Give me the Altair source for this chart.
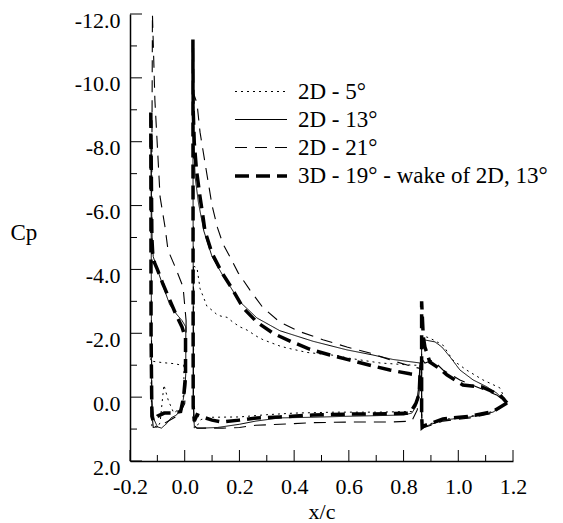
import altair as alt
import pandas as pd

# ---------------- data ----------------
SERIES = ["2D - 5°", "2D - 13°", "2D - 21°", "3D - 19° - wake of 2D, 13°"]

# 2D - 5 deg
S5_SLAT_X = [-0.003, -0.003, -0.01, -0.04, -0.06, -0.076, -0.083, -0.09, -0.1, -0.11, -0.12, -0.122, -0.123, -0.124, -0.115, -0.08, -0.04, -0.01, -0.003]
S5_SLAT_CP = [-1.0, -0.2, 0.3, 0.5, 0.1, -0.38, 0.2, 0.8, 0.95, 0.9, 0.93, 0.0, -0.75, -1.22, -1.12, -1.08, -1.05, -1.0, -1.0]
S5_MAIN_X = [0.86, 0.857, 0.85, 0.83, 0.7, 0.55, 0.4, 0.3, 0.2, 0.1, 0.06, 0.045, 0.035, 0.032, 0.033, 0.045, 0.056, 0.07, 0.081, 0.103, 0.12, 0.14, 0.155, 0.176, 0.202, 0.228, 0.264, 0.286, 0.348, 0.374, 0.447, 0.557, 0.593, 0.714, 0.834, 0.86]
S5_MAIN_CP = [-1.0, -0.3, 0.2, 0.45, 0.47, 0.47, 0.5, 0.55, 0.62, 0.63, 0.7, 0.9, 0.97, 0.5, -4.1, -4.05, -3.4, -3.1, -2.85, -2.7, -2.57, -2.52, -2.5, -2.35, -2.2, -2.1, -1.9, -1.8, -1.6, -1.54, -1.4, -1.3, -1.23, -1.07, -1.0, -1.0]
S5_FLAP_X = [1.178, 1.127, 1.043, 0.944, 0.875, 0.868, 0.866, 0.866, 0.878, 0.896, 0.944, 0.98, 1.03, 1.09, 1.152, 1.178]
S5_FLAP_CP = [0.2, 0.45, 0.6, 0.7, 0.9, 0.97, 0.5, -1.9, -1.9, -1.85, -1.63, -1.16, -0.85, -0.54, -0.29, 0.2]

# 2D - 13 deg
S13_SLAT_X = [0.004, 0.004, 0.0, -0.01, -0.03, -0.05, -0.065, -0.085, -0.1, -0.112, -0.118, -0.121, -0.122, -0.123, -0.121, -0.119, -0.115, -0.1, -0.08, -0.055, -0.03, -0.01, 0.004]
S13_SLAT_CP = [-2.2, -0.75, -0.2, 0.3, 0.56, 0.65, 0.82, 0.97, 0.93, 0.7, 0.3, 0.0, -3.0, -8.0, -6.0, -4.9, -4.4, -4.0, -3.5, -2.9, -2.6, -2.4, -2.2]
S13_MAIN_X = [0.86, 0.855, 0.845, 0.83, 0.8, 0.7, 0.593, 0.469, 0.348, 0.26, 0.2, 0.12, 0.065, 0.045, 0.035, 0.032, 0.03, 0.033, 0.038, 0.05, 0.07, 0.1, 0.14, 0.16, 0.2, 0.264, 0.348, 0.469, 0.593, 0.688, 0.761, 0.86]
S13_MAIN_CP = [-1.07, -0.3, 0.3, 0.5, 0.56, 0.58, 0.6, 0.63, 0.65, 0.75, 0.85, 0.95, 0.97, 0.97, 0.9, 0.3, -9.0, -8.0, -6.9, -6.1, -5.2, -4.4, -3.8, -3.55, -3.0, -2.48, -2.08, -1.75, -1.48, -1.32, -1.18, -1.07]
S13_FLAP_X = [1.178, 1.127, 1.043, 0.944, 0.875, 0.868, 0.866, 0.866, 0.878, 0.915, 0.94, 0.97, 1.006, 1.054, 1.105, 1.14, 1.178]
S13_FLAP_CP = [0.18, 0.47, 0.62, 0.72, 0.93, 0.95, 0.5, -1.8, -1.79, -1.73, -1.57, -1.26, -0.85, -0.54, -0.32, -0.13, 0.18]

# 2D - 21 deg
S21_SLAT_X = [0.005, 0.005, 0.0, -0.02, -0.05, -0.08, -0.1, -0.115, -0.12, -0.122, -0.118, -0.109, -0.09, -0.072, -0.061, -0.036, -0.006, 0.005]
S21_SLAT_CP = [-2.4, -0.5, 0.2, 0.55, 0.7, 0.85, 0.93, 0.95, 0.5, -3.0, -12.0, -9.3, -6.27, -5.33, -4.6, -4.1, -3.45, -2.4]
S21_MAIN_X = [0.86, 0.857, 0.85, 0.83, 0.75, 0.6, 0.469, 0.348, 0.26, 0.2, 0.14, 0.08, 0.045, 0.035, 0.031, 0.033, 0.045, 0.056, 0.075, 0.1, 0.12, 0.14, 0.165, 0.195, 0.238, 0.286, 0.348, 0.421, 0.505, 0.593, 0.677, 0.776, 0.834, 0.86]
S21_MAIN_CP = [-0.9, -0.2, 0.4, 0.75, 0.78, 0.78, 0.8, 0.85, 0.88, 0.95, 0.97, 0.97, 0.97, 0.9, 0.0, -9.5, -9.2, -8.3, -7.3, -6.0, -5.3, -4.8, -4.4, -3.9, -3.36, -2.8, -2.35, -2.05, -1.8, -1.57, -1.38, -1.1, -0.95, -0.9]
S21_FLAP_X = [1.178, 1.127, 1.043, 0.944, 0.875, 0.868, 0.866, 0.866, 0.878, 0.907, 0.944, 1.006, 1.068, 1.14, 1.178]
S21_FLAP_CP = [0.18, 0.5, 0.65, 0.75, 0.95, 0.97, 0.5, -1.2, -1.07, -1.16, -0.85, -0.54, -0.32, -0.07, 0.18]

# 3D - 19 deg
S3D_SLAT_X = [0.003, 0.003, -0.004, -0.015, -0.045, -0.075, -0.1, -0.115, -0.12, -0.123, -0.124, -0.122, -0.12, -0.117, -0.11, -0.1, -0.08, -0.055, -0.03, -0.01, 0.003]
S3D_SLAT_CP = [-1.85, -0.7, 0.0, 0.45, 0.5, 0.5, 0.6, 0.75, 0.6, -2.0, -9.0, -7.0, -5.0, -4.5, -4.2, -4.0, -3.55, -3.05, -2.55, -2.2, -1.85]
S3D_MAIN_X = [0.86, 0.857, 0.845, 0.823, 0.75, 0.6, 0.469, 0.348, 0.264, 0.2, 0.136, 0.1, 0.065, 0.045, 0.035, 0.031, 0.03, 0.031, 0.035, 0.043, 0.056, 0.067, 0.074, 0.1, 0.136, 0.173, 0.213, 0.264, 0.323, 0.392, 0.458, 0.531, 0.604, 0.677, 0.75, 0.823, 0.86]
S3D_MAIN_CP = [-0.68, -0.1, 0.2, 0.5, 0.52, 0.53, 0.56, 0.62, 0.65, 0.72, 0.78, 0.72, 0.62, 0.55, 0.75, 0.3, -11.2, -9.0, -7.96, -7.11, -6.27, -5.64, -5.2, -4.5, -3.9, -3.4, -2.8, -2.35, -2.0, -1.73, -1.5, -1.32, -1.16, -1.0, -0.85, -0.73, -0.68]
S3D_FLAP_X = [1.178, 1.127, 1.043, 0.944, 0.875, 0.868, 0.866, 0.866, 0.872, 0.878, 0.896, 0.93, 0.958, 1.017, 1.086, 1.152, 1.178]
S3D_FLAP_CP = [0.18, 0.45, 0.6, 0.68, 0.9, 0.95, 0.5, -3.0, -1.9, -1.57, -1.1, -0.9, -0.7, -0.38, -0.32, -0.07, 0.18]

X_MAJOR = [-0.2, 0.0, 0.2, 0.4, 0.6, 0.8, 1.0, 1.2]
X_MINOR = [-0.1, 0.1, 0.3, 0.5, 0.7, 0.9, 1.1]
Y_MAJOR = [-12, -10, -8, -6, -4, -2, 0, 2]
Y_MINOR = [-11, -9, -7, -5, -3, -1, 1]

# ---------------- table ----------------
ELEMENTS = {
    SERIES[0]: [(S5_SLAT_X, S5_SLAT_CP), (S5_MAIN_X, S5_MAIN_CP), (S5_FLAP_X, S5_FLAP_CP)],
    SERIES[1]: [(S13_SLAT_X, S13_SLAT_CP), (S13_MAIN_X, S13_MAIN_CP), (S13_FLAP_X, S13_FLAP_CP)],
    SERIES[2]: [(S21_SLAT_X, S21_SLAT_CP), (S21_MAIN_X, S21_MAIN_CP), (S21_FLAP_X, S21_FLAP_CP)],
    SERIES[3]: [(S3D_SLAT_X, S3D_SLAT_CP), (S3D_MAIN_X, S3D_MAIN_CP), (S3D_FLAP_X, S3D_FLAP_CP)],
}
rows = []
for s in SERIES:
    for k, (xs, cs) in enumerate(ELEMENTS[s]):
        for i, (xv, cv) in enumerate(zip(xs, cs)):
            rows.append({"series": s, "key": f"{s}|{k}", "i": i, "x": xv, "cp": cv})
df = pd.DataFrame(rows)

# ---------------- chart ----------------
W, H = 383, 447
FONT = "Liberation Serif"
DASHES = [[2, 4], [1, 0], [12, 8], [14, 7]]
WIDTHS = [1.0, 1.0, 1.1, 3.5]

xscale = alt.Scale(domain=[-0.2, 1.2], nice=False, zero=False)
yscale = alt.Scale(domain=[-12, 2], reverse=True, nice=False, zero=False)

LABEL_EXPR = "replace(format(datum.value, '.1f'), '\u2212', '-')"

x_axis = alt.Axis(
    values=X_MAJOR, labelExpr=LABEL_EXPR, title="x/c", grid=False, ticks=False, tickSize=0,
    labelPadding=15, labelFont=FONT, labelFontSize=22, labelColor="black",
    domainColor="black", domainWidth=1.5, labelFlush=False, labelOverlap=False,
    titleFont=FONT, titleFontSize=22, titleFontWeight="normal", titleColor="black",
    titleY=57, titleBaseline="alphabetic",
)
y_axis = alt.Axis(
    values=Y_MAJOR, labelExpr=LABEL_EXPR, title="Cp", grid=False, ticks=False, tickSize=0,
    labelPadding=10, labelOffset=6, labelFont=FONT, labelFontSize=22, labelColor="black",
    domainColor="black", domainWidth=1.5, labelFlush=False, labelOverlap=False,
    titleFont=FONT, titleFontSize=23, titleFontWeight="normal", titleColor="black",
    titleAngle=0, titleAlign="left", titleBaseline="middle", titleX=-120, titleY=218,
)

leg = alt.Legend(
    orient="none", legendX=119, legendY=66, title=None, symbolType="M-2.6,0H2.6",
    symbolSize=400, symbolStrokeColor="black", labelFont=FONT, labelFontSize=23,
    labelColor="black", labelOffset=25, rowPadding=4, padding=0, symbolLimit=0,
    labelLimit=400,
)

lines = alt.Chart(df).mark_line(color="black", clip=True, strokeCap="butt").encode(
    x=alt.X("x:Q", scale=xscale, axis=x_axis),
    y=alt.Y("cp:Q", scale=yscale, axis=y_axis),
    detail="key:N",
    order="i:Q",
    strokeDash=alt.StrokeDash("series:N", scale=alt.Scale(domain=SERIES, range=DASHES), legend=leg),
    strokeWidth=alt.StrokeWidth("series:N", scale=alt.Scale(type="ordinal", domain=SERIES, range=WIDTHS), legend=leg),
)

ymaj = alt.Chart(pd.DataFrame({"cp": Y_MAJOR})).mark_rule(color="black", strokeWidth=1).encode(
    y=alt.Y("cp:Q", scale=yscale), x=alt.value(0), x2=alt.value(12))
ymin = alt.Chart(pd.DataFrame({"cp": Y_MINOR})).mark_rule(color="black", strokeWidth=1).encode(
    y=alt.Y("cp:Q", scale=yscale), x=alt.value(0), x2=alt.value(7))
xmaj = alt.Chart(pd.DataFrame({"x": X_MAJOR})).mark_rule(color="black", strokeWidth=1).encode(
    x=alt.X("x:Q", scale=xscale), y=alt.value(H), y2=alt.value(H - 11))
xmin = alt.Chart(pd.DataFrame({"x": X_MINOR})).mark_rule(color="black", strokeWidth=1).encode(
    x=alt.X("x:Q", scale=xscale), y=alt.value(H), y2=alt.value(H - 6))

chart = alt.layer(lines, ymaj, ymin, xmaj, xmin).properties(
    width=W, height=H,
    autosize=alt.AutoSizeParams(type="none"),
    padding={"left": 130, "top": 14, "right": 50, "bottom": 62},
    background="white",
).configure_view(stroke=None)

chart.save("out.html", embed_options={"renderer": "svg", "actions": False})
